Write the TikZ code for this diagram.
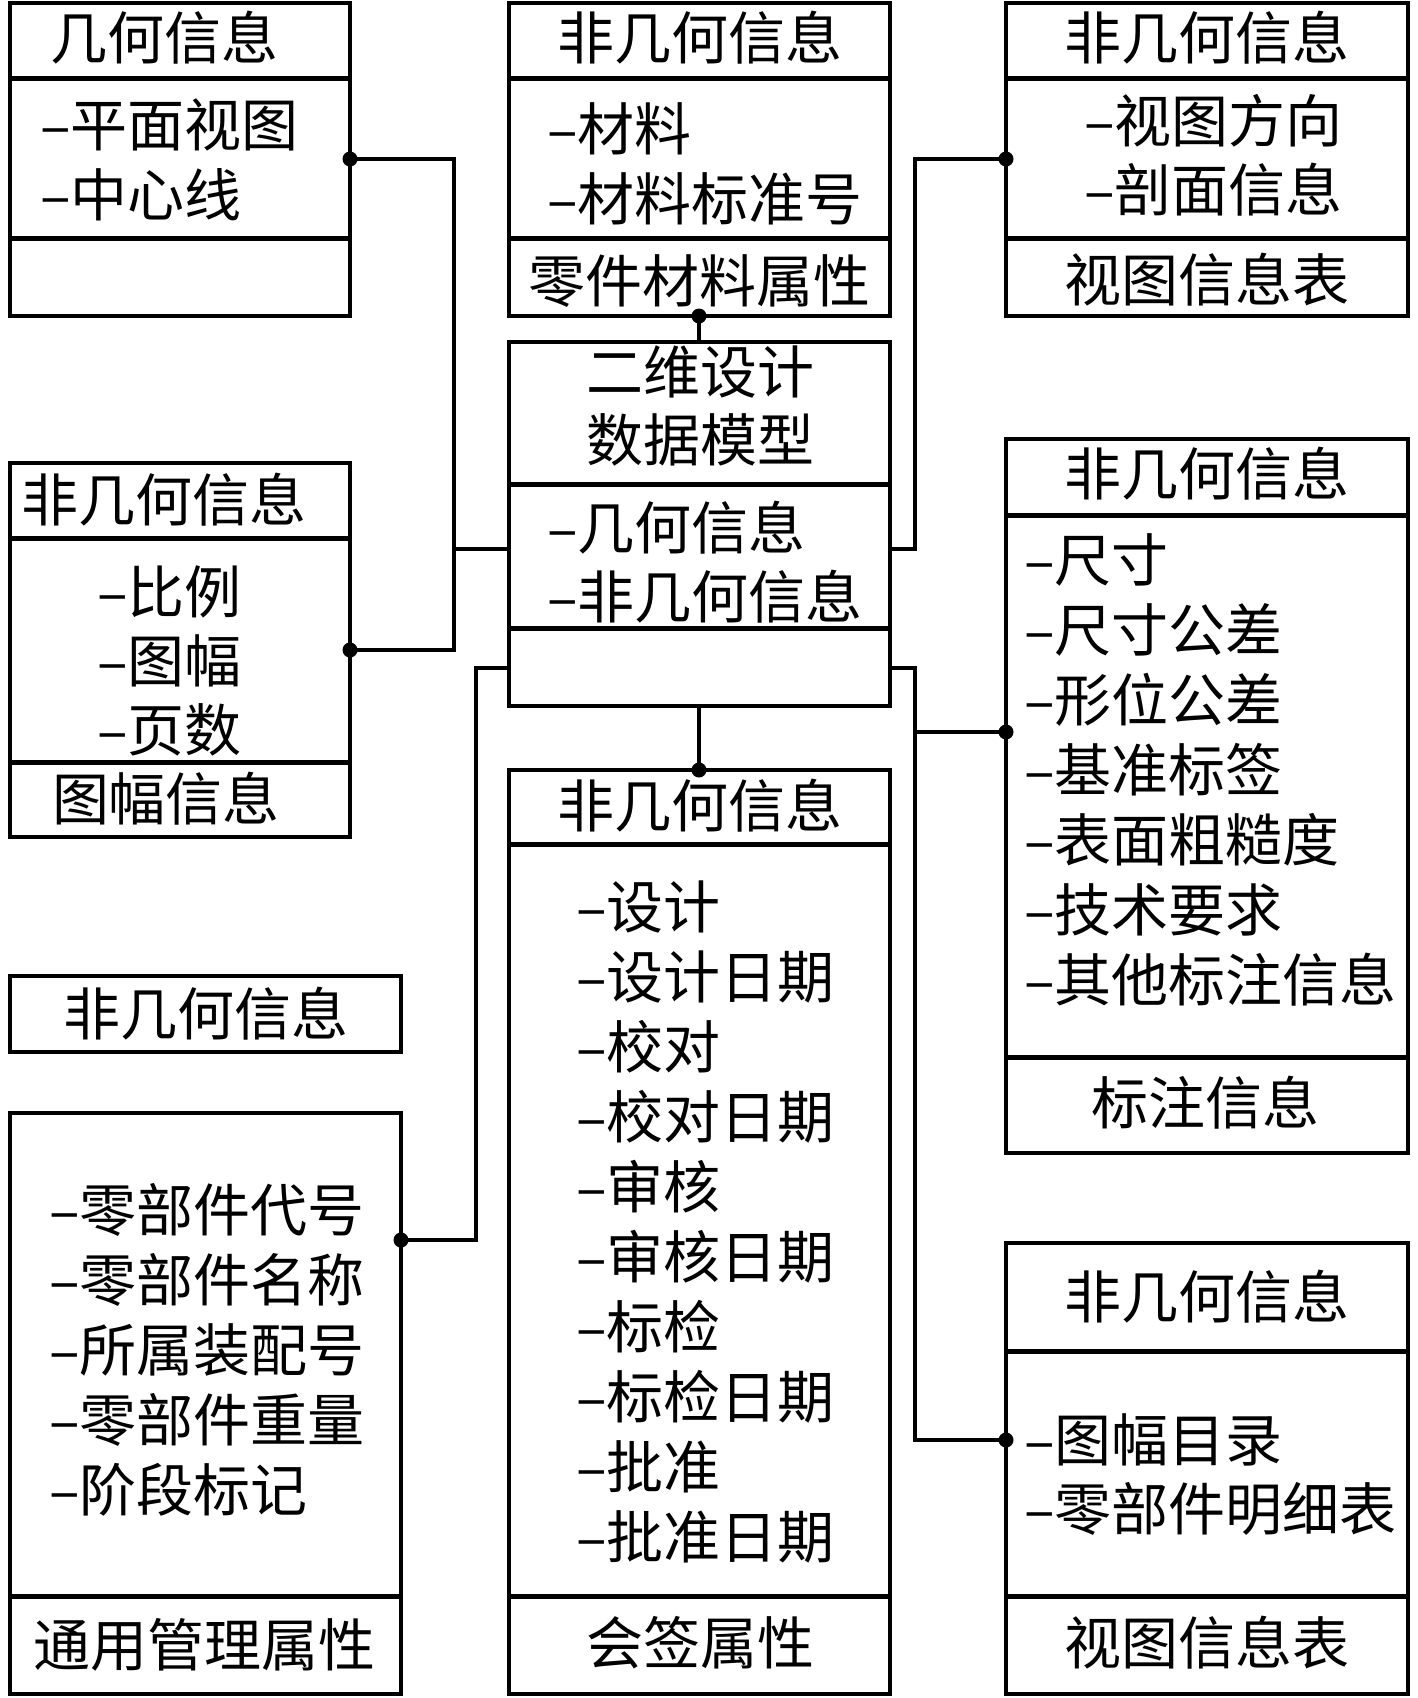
\documentclass[tikz,border=0pt]{standalone}
\usepackage{fontspec}
\setmainfont{Noto Sans CJK SC}
\begin{document}
\begin{tikzpicture}[x=1pt,y=-1pt,
  frame/.style={line width=4pt},
  divider/.style={line width=5pt},
  wire/.style={line width=3.5pt},
  txt/.style={inner sep=0pt, font=\fontsize{57}{70}\selectfont, text height=50pt, text depth=7pt},
  itm/.style={txt, anchor=west},
  jdot/.style={circle, fill=black, inner sep=0pt, minimum size=15pt}]
\useasboundingbox (0,0) rectangle (1417,1698);
\fill[white] (0,0) rectangle (1417,1698);

% ---------- box 1: geometry ----------
\draw[frame] (10,3) rectangle (350,316);
\draw[divider] (10,78) -- (350,78);
\draw[divider] (10,238) -- (350,238);
\node[txt] (b1h) at (164,38) {几何信息};
\node[itm] (b1a) at (40,125) {–平面视图};
\node[itm] (b1b) at (40,195) {–中心线};

% ---------- box 2: material ----------
\draw[frame] (509,3) rectangle (890,316);
\draw[divider] (509,78) -- (890,78);
\draw[divider] (509,238) -- (890,238);
\node[txt] (b2h) at (700,38) {非几何信息};
\node[itm] (b2a) at (547,129) {–材料};
\node[itm] (b2b) at (547,199) {–材料标准号};
\node[txt] (b2f) at (699,281) {零件材料属性};

% ---------- box 3: view ----------
\draw[frame] (1006,3) rectangle (1408,316);
\draw[divider] (1006,78) -- (1408,78);
\draw[divider] (1006,238) -- (1408,238);
\node[txt] (b3h) at (1207,38) {非几何信息};
\node[itm] (b3a) at (1084,121) {–视图方向};
\node[itm] (b3b) at (1084,190) {–剖面信息};
\node[txt] (b3f) at (1207,280) {视图信息表};

% ---------- central box ----------
\draw[frame] (509,342) rectangle (890,706);
\draw[divider] (509,484) -- (890,484);
\draw[divider] (509,628) -- (890,628);
\node[txt] (cta) at (700,372) {二维设计};
\node[txt] (ctb) at (700,440) {数据模型};
\node[itm] (cia) at (547,528) {–几何信息};
\node[itm] (cib) at (547,597) {–非几何信息};

% ---------- box 4: sheet ----------
\draw[frame] (10,463) rectangle (350,837);
\draw[divider] (10,538) -- (350,538);
\draw[divider] (10,762) -- (350,762);
\node[txt] (b4h) at (164,500) {非几何信息};
\node[itm] (b4a) at (97,592) {–比例};
\node[itm] (b4b) at (97,661) {–图幅};
\node[itm] (b4c) at (97,730) {–页数};
\node[txt] (b4f) at (166,799) {图幅信息};

% ---------- box 5 ----------
\draw[frame] (10,976) rectangle (401,1052);
\node[txt] (b5h) at (206,1014) {非几何信息};

% ---------- box 7: general management ----------
\draw[frame] (10,1113) rectangle (401,1694);
\draw[divider] (10,1596) -- (401,1596);
\node[itm] (b7a) at (49,1210) {–零部件代号};
\node[itm] (b7b) at (49,1280) {–零部件名称};
\node[itm] (b7c) at (49,1350) {–所属装配号};
\node[itm] (b7d) at (49,1420) {–零部件重量};
\node[itm] (b7e) at (49,1490) {–阶段标记};
\node[txt] (b7f) at (205,1645) {通用管理属性};

% ---------- box 6: sign-off ----------
\draw[frame] (509,770) rectangle (890,1694);
\draw[divider] (509,844) -- (890,844);
\draw[divider] (509,1596) -- (890,1596);
\node[txt] (b6h) at (700,806) {非几何信息};
\foreach \t [count=\i from 0] in {–设计,–设计日期,–校对,–校对日期,–审核,–审核日期,–标检,–标检日期,–批准,–批准日期}
  \node[itm] (b6i\i) at (576,{907+70*\i}) {\t};
\node[txt] (b6f) at (700,1643) {会签属性};

% ---------- box 8: annotation ----------
\draw[frame] (1006,439) rectangle (1408,1153);
\draw[divider] (1006,515) -- (1408,515);
\draw[divider] (1006,1057) -- (1408,1057);
\node[txt] (b8h) at (1207,474) {非几何信息};
\foreach \t [count=\i from 0] in {–尺寸,–尺寸公差,–形位公差,–基准标签,–表面粗糙度,–技术要求,–其他标注信息}
  \node[itm] (b8i\i) at (1024,{560+70*\i}) {\t};
\node[txt] (b8f) at (1205,1103) {标注信息};

% ---------- box 9 ----------
\draw[frame] (1006,1243) rectangle (1408,1694);
\draw[divider] (1006,1351) -- (1408,1351);
\draw[divider] (1006,1596) -- (1408,1596);
\node[txt] (b9h) at (1207,1297) {非几何信息};
\node[itm] (b9a) at (1024,1440) {–图幅目录};
\node[itm] (b9b) at (1024,1509) {–零部件明细表};
\node[txt] (b9f) at (1207,1643) {视图信息表};

% ---------- connection points ----------
\coordinate (d1) at (350,159);
\coordinate (d4) at (350,650);
\coordinate (d3) at (1006,159);
\coordinate (d7) at (401,1240);
\coordinate (d8) at (1006,732);
\coordinate (d9) at (1006,1440);
\coordinate (d2) at (699,316);
\coordinate (d6) at (699,770);
\coordinate (m1) at (509,549);
\coordinate (m2) at (890,549);
\coordinate (m3) at (509,668);
\coordinate (m4) at (890,668);
\coordinate (m5) at (699,342);
\coordinate (m6) at (699,706);
\coordinate (k1) at (454,0);
\coordinate (k2) at (915,0);
\coordinate (k3) at (476,0);

% ---------- connectors ----------
\draw[wire] (d1) -- (d1 -| k1) -- (d4 -| k1) -- (d4);
\draw[wire] (m1 -| k1) -- (m1);
\draw[wire] (d3) -- (d3 -| k2) -- (m2 -| k2) -- (m2);
\draw[wire] (m3) -- (m3 -| k3) -- (d7 -| k3) -- (d7);
\draw[wire] (m4) -- (m4 -| k2) -- (d9 -| k2) -- (d9);
\draw[wire] (d8 -| k2) -- (d8);
\draw[wire] (d2) -- (m5);
\draw[wire] (m6) -- (d6);

\foreach \p in {d1,d4,d3,d7,d8,d9,d2,d6}
  \node[jdot] at (\p) {};
\end{tikzpicture}
\end{document}
